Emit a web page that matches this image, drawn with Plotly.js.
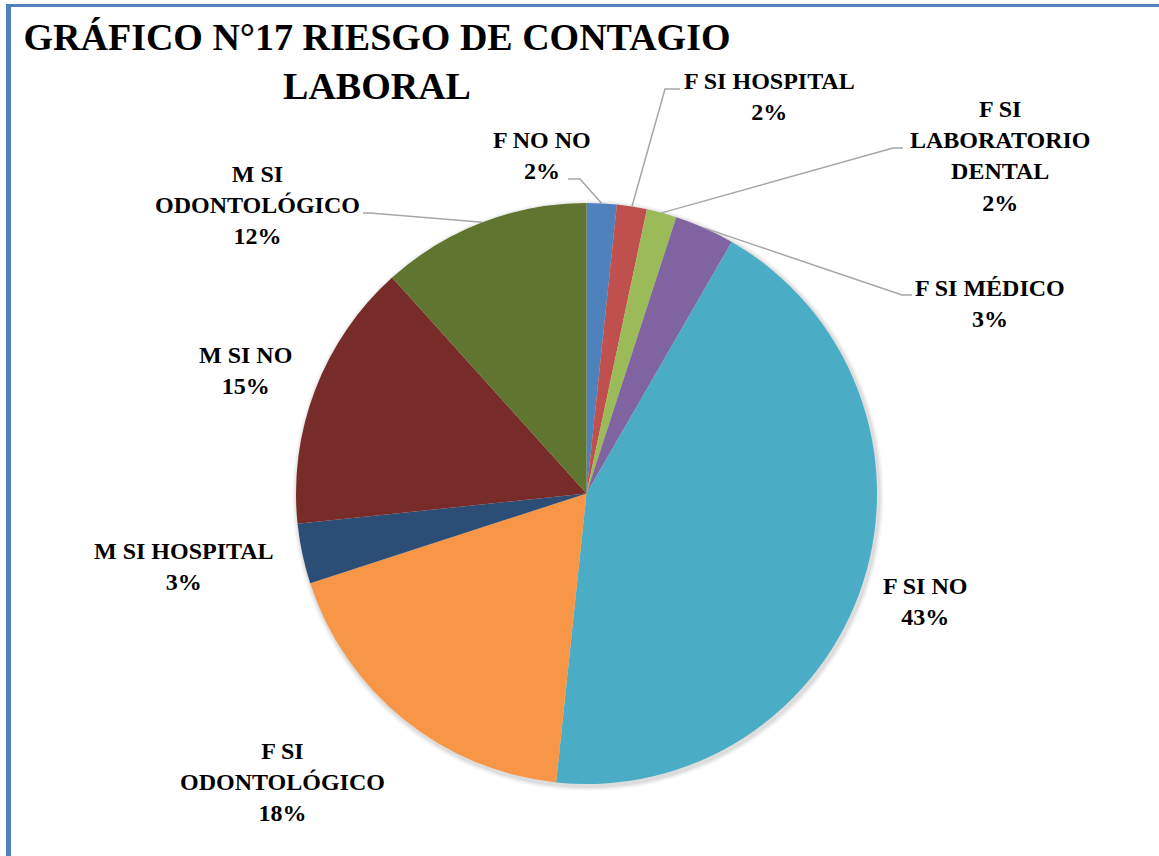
<!DOCTYPE html>
<html>
<head>
<meta charset="utf-8">
<script src="https://cdn.plot.ly/plotly-3.0.1.min.js"></script>
<style>html,body{margin:0;padding:0;background:#fff;}#chart{width:1159px;height:856px;}</style>
</head>
<body>
<div id="chart"></div>
<script>
// ---- data ----
const categories = ['F NO NO','F SI HOSPITAL','F SI LABORATORIO DENTAL','F SI MÉDICO','F SI NO','F SI ODONTOLÓGICO','M SI HOSPITAL','M SI NO','M SI ODONTOLÓGICO'];
const counts = [1, 1, 1, 2, 26, 11, 2, 9, 7];
const labelText = ['F NO NO','F SI HOSPITAL','F SI<br>LABORATORIO<br>DENTAL','F SI MÉDICO','F SI NO','F SI<br>ODONTOLÓGICO','M SI HOSPITAL','M SI NO','M SI<br>ODONTOLÓGICO'];
const sliceColors = ['#4F81BD','#C0504D','#9BBB59','#8064A2','#4BACC6','#F79646','#2C4D75','#772C2A','#5F7530'];

// ---- layout (pixels) ----
const W = 1159, H = 856;
const CX = 586.5, CY = 493.5, R = 290.5;
// label block centres
const labelPos = [[542,156],[769,97],[1000,156],[990,303],[925,601],[282,782],[184,566],[245,371],[257,205]];
// leader lines: [startX, elbowX, y] or null
const leaders = [[568,580,179],[680,665,89],[903,893,148],[912,902,295],null,null,null,null,[363,370,213]];

const px = x => x / W;
const py = y => 1 - y / H;

const total = counts.reduce((a,b)=>a+b,0);
const pctText = counts.map(v => Math.round(v/total*100) + '%');

const annotations = [];
const shapes = [];

// frame lines
shapes.push({type:'rect', xref:'paper', yref:'paper', x0:px(6), x1:px(W), y0:py(4), y1:py(7), fillcolor:'#4F81BD', line:{width:0}, layer:'below'});
shapes.push({type:'rect', xref:'paper', yref:'paper', x0:px(6), x1:px(11), y0:py(4), y1:py(H), fillcolor:'#4F81BD', line:{width:0}, layer:'below'});

// soft shadow
[[5,0.035],[3.5,0.045],[2,0.06]].forEach(([d,a]) => {
  shapes.push({type:'circle', xref:'paper', yref:'paper', x0:px(CX-R-d+1.5), x1:px(CX+R+d+1.5), y0:py(CY-R-d+2), y1:py(CY+R+d+2),
    fillcolor:'rgba(0,0,0,'+a+')', line:{width:0}, layer:'below'});
});

let cum = 0;
counts.forEach((v, i) => {
  const mid = 2*Math.PI*(cum + v/2)/total;
  cum += v;
  const ex = CX + R*Math.sin(mid), ey = CY - R*Math.cos(mid);
  annotations.push({
    xref:'paper', yref:'paper', x:px(labelPos[i][0]), y:py(labelPos[i][1]),
    xanchor:'center', yanchor:'middle', align:'center', showarrow:false,
    text:'<b>' + labelText[i] + '<br>' + pctText[i] + '</b>',
    font:{family:'Liberation Serif, serif', size:24, color:'#000'}
  });
  const L = leaders[i];
  if (L) {
    shapes.push({type:'path', xref:'paper', yref:'paper',
      path:'M'+px(L[0])+','+py(L[2])+' L'+px(L[1])+','+py(L[2])+' L'+px(ex)+','+py(ey),
      line:{color:'#A6A6A6', width:1.5}});
  }
});

const trace = {
  type:'pie', labels:categories, values:counts, sort:false, direction:'clockwise', rotation:0,
  marker:{colors:sliceColors, line:{width:0}}, textinfo:'none', hoverinfo:'label+percent',
  domain:{x:[px(CX-R), px(CX+R)], y:[py(CY+R), py(CY-R)]}
};

const layout = {
  width:W, height:H, margin:{l:0,r:0,t:0,b:0,pad:0}, showlegend:false,
  paper_bgcolor:'#fff', plot_bgcolor:'#fff',
  title:{text:'<b>GRÁFICO N°17 RIESGO DE CONTAGIO<br>LABORAL</b>', xref:'container', yref:'container',
    x:px(377), xanchor:'center', y:1-50/H, yanchor:'top',
    font:{family:'Liberation Serif, serif', size:38, color:'#000'}},
  annotations:annotations, shapes:shapes
};

Plotly.newPlot('chart', [trace], layout, {displayModeBar:false, staticPlot:true});
</script>
</body>
</html>
